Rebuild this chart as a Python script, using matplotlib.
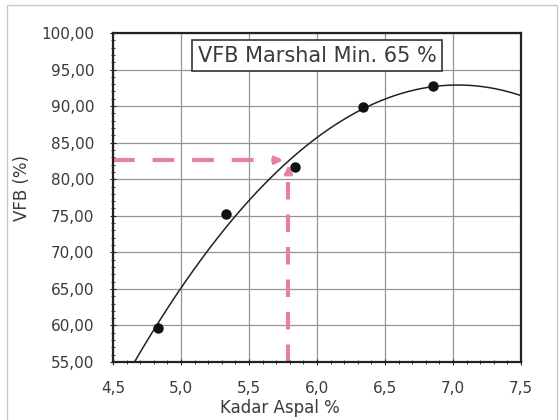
import numpy as np
import matplotlib
matplotlib.use("Agg")
import matplotlib.pyplot as plt
from matplotlib.patches import Rectangle
from matplotlib.ticker import MultipleLocator, FuncFormatter

# kadar aspal vs VFB
kadar_aspal = [4.83, 5.33, 5.84, 6.34, 6.85]
vfb = [59.6, 75.3, 81.7, 89.9, 92.8]

# kadar aspal optimum dibaca dari kurva
kao_x = 5.79
kao_y = 82.6

x_ticks = [4.5, 5.0, 5.5, 6.0, 6.5, 7.0, 7.5]
y_ticks = [55, 60, 65, 70, 75, 80, 85, 90, 95, 100]

plt.rcParams['font.family'] = ['DejaVu Sans']
TXT = '#3a3a3a'
PINK = '#e8809e'

W, H = 560, 420
fig = plt.figure(figsize=(5.6, 4.2), dpi=100)
ax = fig.add_axes([113 / W, 1 - 362 / H, (521 - 113) / W, (362 - 33) / H])

# garis trend polinomial orde 2
coef = np.polyfit(kadar_aspal, vfb, 2)
xs = np.linspace(4.5, 7.5, 300)
ax.plot(xs, np.polyval(coef, xs), color='#222222', lw=1.1, zorder=3)
ax.plot(kadar_aspal, vfb, 'o', color='#111111', ms=6.5, zorder=4)

# garis bantu KAO
ax.plot([4.5, kao_x - 0.06], [kao_y, kao_y], color=PINK, lw=3,
        dashes=(5.2, 4.3), zorder=2)
ax.plot([kao_x, kao_x], [55, kao_y - 0.9], color=PINK, lw=3,
        dashes=(4.2, 3.6), zorder=2)
ax.annotate('', xy=(kao_x - 0.02, kao_y), xytext=(kao_x - 0.12, kao_y),
            arrowprops=dict(arrowstyle='-|>', color=PINK, lw=2,
                            mutation_scale=12), zorder=2)
ax.annotate('', xy=(kao_x, kao_y - 0.3), xytext=(kao_x, kao_y - 2.0),
            arrowprops=dict(arrowstyle='-|>', color=PINK, lw=2,
                            mutation_scale=12), zorder=2)

ax.set_xlim(4.5, 7.5)
ax.set_ylim(55, 100)
ax.set_xticks(x_ticks)
ax.set_yticks(y_ticks)
ax.xaxis.set_minor_locator(MultipleLocator(0.1))
ax.yaxis.set_minor_locator(MultipleLocator(1))
ax.xaxis.set_major_formatter(FuncFormatter(lambda v, p: f'{v:.1f}'.replace('.', ',')))
ax.yaxis.set_major_formatter(FuncFormatter(lambda v, p: f'{v:.2f}'.replace('.', ',')))
ax.tick_params(which='both', direction='inout', colors='#222222', labelcolor=TXT,
               labelsize=11)
ax.tick_params(which='major', length=5, pad=11)
ax.tick_params(which='minor', length=3)
ax.grid(True, which='major', color='#959595', lw=0.9)
for s in ax.spines.values():
    s.set_linewidth(1.6)
    s.set_color('#222222')

fig.text(280 / W, 1 - 408 / H, 'Kadar Aspal %', ha='center', va='center',
         fontsize=12, color=TXT)
fig.text(22 / W, 1 - 188 / H, 'VFB (%)', ha='center', va='center',
         rotation=90, fontsize=12, color=TXT)

ax.text(6.0, 96.9, 'VFB Marshal Min. 65 %', ha='center', va='center',
        fontsize=15, color=TXT, zorder=5,
        bbox=dict(boxstyle='square,pad=0.25', fc='white', ec='#333333', lw=1.2))

fig.patches.append(Rectangle((7 / W, -0.05), 550 / W, 1 - 5 / H + 0.05,
                             transform=fig.transFigure, fill=False,
                             ec='#c8c8c8', lw=1.0))

fig.savefig('out.png', dpi=100)
